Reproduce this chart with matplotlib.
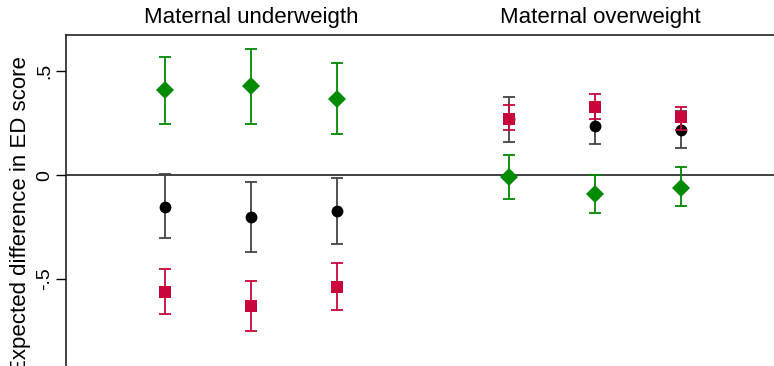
import matplotlib.pyplot as plt
import numpy as np

plt.rcParams.update({
    "font.family": ["Liberation Sans", "DejaVu Sans"],
    "font.size": 16,
})

# x positions of the three estimates in each panel
x_under = [1, 2, 3]
x_over = [5, 6, 7]

# Maternal underweight: point estimate, lower CI, upper CI
under_green = [0.408, 0.429, 0.368]
under_green_lo = [0.248, 0.248, 0.198]
under_green_hi = [0.568, 0.608, 0.541]

under_black = [-0.153, -0.204, -0.172]
under_black_lo = [-0.302, -0.373, -0.333]
under_black_hi = [0.004, -0.031, -0.012]

under_red = [-0.562, -0.631, -0.541]
under_red_lo = [-0.669, -0.751, -0.651]
under_red_hi = [-0.451, -0.512, -0.422]

# Maternal overweight
over_green = [-0.011, -0.092, -0.063]
over_green_lo = [-0.113, -0.182, -0.151]
over_green_hi = [0.099, 0.002, 0.039]

over_black = [0.270, 0.238, 0.219]
over_black_lo = [0.158, 0.148, 0.129]
over_black_hi = [0.377, 0.329, 0.309]

over_red = [0.270, 0.329, 0.280]
over_red_lo = [0.219, 0.270, 0.219]
over_red_hi = [0.339, 0.389, 0.329]

yticks = [-0.5, 0, 0.5]
ytick_labels = ["-.5", "0", ".5"]
titles = ["Maternal underweigth", "Maternal overweight"]

GREEN = "#008a00"
RED = "#c8063c"
GREY = "#444444"

fig = plt.figure(figsize=(7.74, 3.66), dpi=100)
ax = fig.add_axes([66 / 774, 0, 1 - 66 / 774, 1 - 35 / 366])

z = [3]


def draw(x, y, lo, hi, color, ecolor, marker, ms):
    y = np.array(y)
    err = [y - np.array(lo), np.array(hi) - y]
    ax.errorbar(x, y, yerr=err, fmt="none", ecolor=ecolor,
                elinewidth=1.3, capsize=4, capthick=1.3, zorder=z[0])
    ax.plot(x, y, linestyle="none", marker=marker, color=color,
            markersize=ms, markeredgewidth=0, zorder=z[0] + 0.5)
    z[0] += 1


ax.axhline(0, color="#333333", linewidth=1.3, zorder=1)

for xs, g, glo, ghi, b, blo, bhi, r, rlo, rhi in [
    (x_under, under_green, under_green_lo, under_green_hi,
     under_black, under_black_lo, under_black_hi,
     under_red, under_red_lo, under_red_hi),
    (x_over, over_green, over_green_lo, over_green_hi,
     over_black, over_black_lo, over_black_hi,
     over_red, over_red_lo, over_red_hi),
]:
    draw(xs, g, glo, ghi, GREEN, GREEN, "D", 9)
    draw(xs, b, blo, bhi, "black", GREY, "o", 8.5)
    draw(xs, r, rlo, rhi, RED, RED, "s", 8.5)

ax.set_xlim(-0.151, 8.08)
ax.set_ylim(-0.92, 0.675)

ax.set_yticks(yticks)
ax.set_yticklabels(ytick_labels, rotation=90, va="center")
ax.tick_params(axis="y", length=7, width=1, pad=2.5, labelsize=14)
ax.set_xticks([])

for side in ["bottom", "right"]:
    ax.spines[side].set_visible(False)
for side in ["left", "top"]:
    ax.spines[side].set_linewidth(1.2)
    ax.spines[side].set_color("#222222")

# the label is cut at the bottom edge in the original figure
ax.set_ylabel("Expected difference in ED score", fontsize=16)
ax.yaxis.set_label_coords(-0.049, 0.455)

fig.text(251 / 774, 1 - 18 / 366, titles[0], ha="center", va="center",
         fontsize=16)
fig.text(600 / 774, 1 - 18 / 366, titles[1], ha="center", va="center",
         fontsize=16)

fig.savefig("out.png", dpi=100)
